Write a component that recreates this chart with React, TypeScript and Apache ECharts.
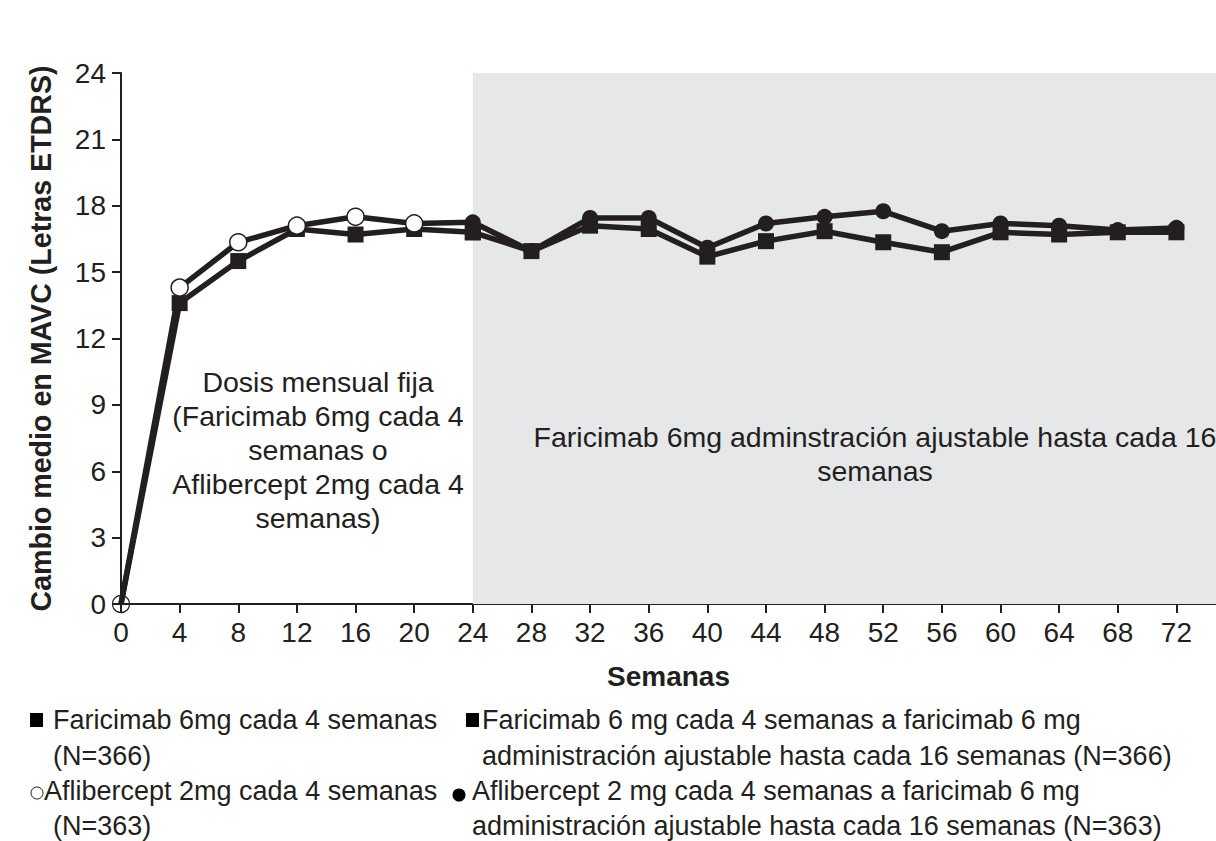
import React, { useEffect, useRef } from "react";
import * as echarts from "echarts";

const weeksFixed = [0, 4, 8, 12, 16, 20, 24];
const fariFixed = [0, 13.6, 15.5, 16.95, 16.7, 16.95, 16.8];
const afliFixed = [0, 14.3, 16.35, 17.1, 17.5, 17.2, 17.25];

const weeksAdj = [24, 28, 32, 36, 40, 44, 48, 52, 56, 60, 64, 68, 72];
const fariAdj = [16.8, 15.95, 17.1, 16.95, 15.7, 16.4, 16.85, 16.35, 15.9, 16.8, 16.7, 16.8, 16.8];
const afliAdj = [17.25, 15.95, 17.45, 17.45, 16.1, 17.2, 17.5, 17.75, 16.85, 17.2, 17.1, 16.9, 17.0];

const xTicks = [0, 4, 8, 12, 16, 20, 24, 28, 32, 36, 40, 44, 48, 52, 56, 60, 64, 68, 72];
const adjustStart = 24;
const xMax = 74.7;

const seriesNames = [
  "Faricimab 6mg cada 4 semanas (N=366)",
  "Aflibercept 2mg cada 4 semanas (N=363)",
  "Faricimab 6 mg cada 4 semanas a faricimab 6 mg administración ajustable hasta cada 16 semanas (N=366)",
  "Aflibercept 2 mg cada 4 semanas a faricimab 6 mg administración ajustable hasta cada 16 semanas (N=363)",
];

const INK = "#231f20";
const FONT = "'Liberation Sans', Arial, sans-serif";

function legendLine(x: number, y: number, text: string) {
  return {
    type: "text",
    x,
    y,
    style: { text, font: `27px ${FONT}`, fill: INK, verticalAlign: "middle", lineHeight: 26 },
  };
}

export default function App() {
  const ref = useRef<HTMLDivElement>(null);
  useEffect(() => {
    document.body.style.margin = "0";
    const chart = echarts.init(ref.current!, null, { renderer: "svg" });

    const fixedFari = weeksFixed.map((w, i) =>
      w === 0 ? { value: [w, fariFixed[i]], symbol: "none" } : { value: [w, fariFixed[i]] }
    );
    const fixedAfli = weeksFixed.map((w, i) =>
      w === 0
        ? { value: [w, afliFixed[i]], itemStyle: { color: "transparent", borderColor: INK, borderWidth: 1.2 } }
        : w === adjustStart
        ? { value: [w, afliFixed[i]], symbol: "none" }
        : { value: [w, afliFixed[i]] }
    );

    chart.setOption({
      animation: false,
      textStyle: { fontFamily: FONT },
      grid: { left: 121, right: 0, top: 73, bottom: 237 },
      xAxis: {
        type: "value",
        min: 0,
        max: xMax,
        name: "Semanas",
        nameLocation: "middle",
        nameGap: 58,
        nameTextStyle: { fontSize: 28, fontWeight: "bold", color: INK, fontFamily: FONT },
        axisLine: { lineStyle: { color: INK, width: 2 } },
        axisTick: { show: true, length: 9, lineStyle: { color: INK, width: 2 }, customValues: xTicks },
        axisLabel: { fontSize: 28, color: INK, margin: 14, fontFamily: FONT, customValues: xTicks },
        splitLine: { show: false },
      },
      yAxis: {
        type: "value",
        min: 0,
        max: 24,
        interval: 3,
        name: "Cambio medio en MAVC (Letras ETDRS)",
        nameLocation: "middle",
        nameGap: 66,
        nameTextStyle: { fontSize: 28.6, fontWeight: "bold", color: INK, fontFamily: FONT },
        axisLine: { show: true, lineStyle: { color: INK, width: 2 } },
        axisTick: { show: true, length: 9, lineStyle: { color: INK, width: 2 } },
        axisLabel: { fontSize: 28, color: INK, margin: 15, fontFamily: FONT },
        splitLine: { show: false },
      },
      series: [
        {
          name: seriesNames[0],
          type: "line",
          data: fixedFari,
          symbol: "rect",
          symbolSize: 16,
          lineStyle: { color: INK, width: 5.5 },
          itemStyle: { color: INK },
          z: 2,
          markArea: {
            silent: true,
            itemStyle: { color: "#e6e7e8" },
            data: [[{ xAxis: adjustStart }, { xAxis: xMax }]],
          },
        },
        {
          name: seriesNames[1],
          type: "line",
          data: fixedAfli,
          symbol: "circle",
          symbolSize: 17,
          lineStyle: { color: INK, width: 5.5 },
          itemStyle: { color: "#ffffff", borderColor: INK, borderWidth: 1.5 },
          z: 3,
        },
        {
          name: seriesNames[3],
          type: "line",
          data: weeksAdj.map((w, i) => [w, afliAdj[i]]),
          symbol: "circle",
          symbolSize: 16,
          lineStyle: { color: INK, width: 5.5 },
          itemStyle: { color: INK },
          z: 4,
        },
        {
          name: seriesNames[2],
          type: "line",
          data: weeksAdj.map((w, i) => [w, fariAdj[i]]),
          symbol: "rect",
          symbolSize: 16,
          lineStyle: { color: INK, width: 5.5 },
          itemStyle: { color: INK },
          z: 5,
        },
      ],
      graphic: [
        {
          type: "text",
          x: 318,
          y: 365,
          style: {
            text: "Dosis mensual fija\n(Faricimab 6mg cada 4\nsemanas o\nAflibercept 2mg cada 4\nsemanas)",
            textAlign: "center",
            font: `28.5px ${FONT}`,
            lineHeight: 34,
            fill: INK,
          },
          z: 10,
        },
        {
          type: "text",
          x: 875,
          y: 420,
          style: {
            text: "Faricimab 6mg adminstración ajustable hasta cada 16\nsemanas",
            textAlign: "center",
            font: `28.5px ${FONT}`,
            lineHeight: 34,
            fill: INK,
          },
          z: 10,
        },
        // legend
        { type: "rect", shape: { x: 30, y: 713, width: 13, height: 14 }, style: { fill: "#000" } },
        legendLine(53, 720, "Faricimab 6mg cada 4 semanas"),
        legendLine(53, 756, "(N=366)"),
        { type: "circle", shape: { cx: 37, cy: 793, r: 6 }, style: { fill: "#fff", stroke: INK, lineWidth: 1 } },
        legendLine(44, 791, "Aflibercept 2mg cada 4 semanas"),
        legendLine(53, 826, "(N=363)"),
        { type: "rect", shape: { x: 466, y: 713, width: 13, height: 14 }, style: { fill: "#000" } },
        legendLine(482, 720, "Faricimab 6 mg cada 4 semanas a faricimab 6 mg"),
        legendLine(482, 756, "administración ajustable hasta cada 16 semanas (N=366)"),
        { type: "circle", shape: { cx: 459, cy: 795, r: 6.5 }, style: { fill: "#000" } },
        legendLine(472, 791, "Aflibercept 2 mg cada 4 semanas a faricimab 6 mg"),
        legendLine(472, 826, "administración ajustable hasta cada 16 semanas (N=363)"),
      ],
    });
    return () => chart.dispose();
  }, []);
  return <div ref={ref} style={{ width: 1216, height: 841 }} />;
}
